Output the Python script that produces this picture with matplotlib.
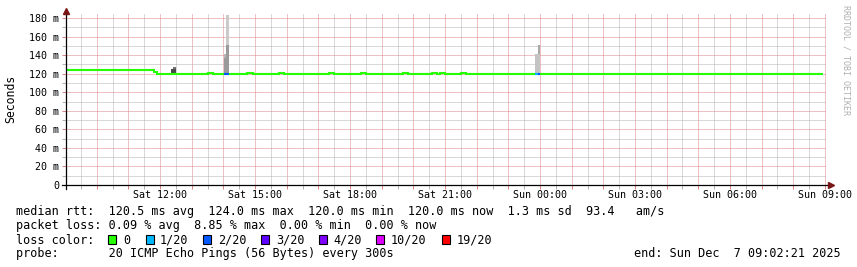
import matplotlib
matplotlib.use("Agg")
import matplotlib.pyplot as plt
from matplotlib.patches import Rectangle
from matplotlib.ticker import FixedLocator, FuncFormatter, MultipleLocator

W, H = 857, 267
MONO = "DejaVu Sans Mono"

# --- data (x = hours since Sat 00:00) ---
rtt_hours = [9.04, 11.81, 11.91, 13.52, 13.67, 14.75, 14.94, 15.76, 15.92, 17.34, 17.49,
             18.35, 18.51, 19.67, 19.83, 20.59, 20.75, 20.84, 21.00, 21.50, 21.66, 32.90]
rtt_ms = [124.0, 122.0, 120.0, 121.0, 120.0, 121.0, 120.0, 121.0, 120.0, 121.0, 120.0,
          121.0, 120.0, 121.0, 120.0, 121.0, 120.0, 121.0, 120.0, 121.0, 120.0, 120.0]

loss_start = [14.02, 23.84, 23.94]
loss_end = [14.18, 23.94, 24.00]
loss_ms = [120.0, 120.0, 120.0]
loss_level = [2, 1, 2]

smoke_start = [12.35, 12.41, 12.41, 14.02, 14.02, 14.08, 14.08, 23.84, 23.94, 23.94]
smoke_end = [12.41, 12.51, 12.51, 14.08, 14.08, 14.18, 14.18, 23.94, 24.00, 24.00]
smoke_lo = [121.0, 121.0, 124.5, 121.0, 137.0, 121.0, 151.0, 121.0, 121.0, 141.0]
smoke_hi = [124.5, 124.5, 127.0, 137.0, 141.0, 151.0, 183.0, 141.0, 141.0, 151.0]
smoke_grey = ["#4a4a4a", "#4a4a4a", "#707070", "#9a9a9a", "#b6b6b6",
              "#9a9a9a", "#cacaca", "#c4c4c4", "#c4c4c4", "#a8a8a8"]

label_hours = [12, 15, 18, 21, 24, 27, 30, 33]
x_labels = ["Sat 12:00", "Sat 15:00", "Sat 18:00", "Sat 21:00",
            "Sun 00:00", "Sun 03:00", "Sun 06:00", "Sun 09:00"]
y_values = [0, 20, 40, 60, 80, 100, 120, 140, 160, 180]
y_labels = ["0", "20 m", "40 m", "60 m", "80 m", "100 m", "120 m", "140 m", "160 m", "180 m"]

loss_names = ["0", "1/20", "2/20", "3/20", "4/20", "10/20", "19/20"]
loss_colors = ["#26ff00", "#00b8ff", "#0059ff", "#5e00ff", "#7e00ff", "#dd00ff", "#ff0000"]

rtt_stat_names = ["avg", "max", "min", "now"]
rtt_stats = [120.5, 124.0, 120.0, 120.0]
rtt_sd = 1.3
rtt_am = 93.4
loss_stats = [0.09, 8.85, 0.00, 0.00]
probe_text = "20 ICMP Echo Pings (56 Bytes) every 300s"
end_text = "end: Sun Dec  7 09:02:21 2025"

# --- layout (pixels) ---
X0, X1 = 66.4, 826.2
Y0, Y1 = 185.0, 13.0
GRID_RED = "#dc8484"
GRID_GREY = "#b2b2b2"
ARROW = "#7a1515"


def fx(px):
    return px / W


def fy(py):
    return 1 - py / H


fig = plt.figure(figsize=(W / 100, H / 100), dpi=100, facecolor="white")
ax = fig.add_axes([fx(X0), fy(Y0), (X1 - X0) / W, (Y0 - Y1) / H])
ax.set_xlim(9.0392, 33.0392)
ax.set_ylim(0, 185.4)
for s in ax.spines.values():
    s.set_visible(False)

# smoke
ax.bar(smoke_start, [h - l for l, h in zip(smoke_lo, smoke_hi)],
       width=[e - s for s, e in zip(smoke_start, smoke_end)], bottom=smoke_lo,
       align="edge", color=smoke_grey, linewidth=0, zorder=2)

# median rtt
ax.plot(rtt_hours, rtt_ms, drawstyle="steps-post", color=loss_colors[0],
        lw=1.5, zorder=3, solid_joinstyle="miter")
ax.hlines(loss_ms, loss_start, loss_end, colors=[loss_colors[i] for i in loss_level],
          lw=1.5, zorder=4)

# grid / ticks
ax.xaxis.set_major_locator(FixedLocator(list(range(10, 34))))
lab = dict(zip(label_hours, x_labels))
ax.xaxis.set_major_formatter(FuncFormatter(lambda v, p: lab.get(int(round(v)), "")))
ax.xaxis.set_minor_locator(MultipleLocator(0.5))
ax.yaxis.set_major_locator(FixedLocator(y_values))
ax.set_yticklabels(y_labels)
ax.yaxis.set_minor_locator(MultipleLocator(10))
ax.set_axisbelow(True)
ax.grid(which="major", color=GRID_RED, ls=(0, (1, 1)), lw=0.72)
ax.grid(which="minor", color=GRID_GREY, ls=(0, (1, 1)), lw=0.72)
ax.tick_params(which="major", length=3, width=0.72, color=GRID_RED, labelsize=7.2)
ax.tick_params(which="minor", length=3, width=0.72, color=GRID_GREY)
ax.tick_params(axis="x", pad=0.8)
ax.tick_params(axis="y", pad=2.2)
for t in ax.get_xticklabels() + ax.get_yticklabels():
    t.set_family(MONO)

# axes with arrows
ax.plot([-4.5 / (X1 - X0), 1 + 4 / (X1 - X0)], [0, 0], transform=ax.transAxes,
        color="black", lw=0.9, clip_on=False, zorder=5)
ax.plot([0, 0], [-4 / (Y0 - Y1), 1 + 1 / (Y0 - Y1)], transform=ax.transAxes,
        color="black", lw=0.9, clip_on=False, zorder=5)
ax.plot([1 + 5 / (X1 - X0)], [0], marker=">", ms=4, color=ARROW,
        transform=ax.transAxes, clip_on=False, zorder=6)
ax.plot([0], [1 + 2 / (Y0 - Y1)], marker="^", ms=4, color=ARROW,
        transform=ax.transAxes, clip_on=False, zorder=6)

fig.text(fx(11), fy(99), "Seconds", rotation=90, ha="center", va="center",
         family=MONO, fontsize=8.3)
fig.text(fx(846), fy(60), "RRDTOOL / TOBI OETIKER", rotation=270, ha="center",
         va="center", family=MONO, fontsize=6, color="#b0b0b0")

# legend rows
FS = 8.5
row1 = "median rtt:  " + "  ".join(f"{v:.1f} ms {n}" for v, n in zip(rtt_stats, rtt_stat_names)) \
    + f"  {rtt_sd:.1f} ms sd  {rtt_am:.1f}   am/s"
row2 = "packet loss: " + "  ".join(f"{v:.2f} % {n}" for v, n in zip(loss_stats, rtt_stat_names))
fig.text(fx(16), fy(215.5), row1, family=MONO, fontsize=FS, va="baseline")
fig.text(fx(16), fy(229.5), row2, family=MONO, fontsize=FS, va="baseline")
fig.text(fx(16), fy(243.5), "loss color:", family=MONO, fontsize=FS, va="baseline")
fig.text(fx(16), fy(257), "probe:       " + probe_text, family=MONO, fontsize=FS, va="baseline")
fig.text(fx(634), fy(257), end_text, family=MONO, fontsize=FS, va="baseline")

box_x = [108, 146, 203, 261, 319, 376, 442]
text_x = [123, 160, 218, 276, 333, 391, 457]
for bx, tx, name, col in zip(box_x, text_x, loss_names, loss_colors):
    fig.patches.append(Rectangle((fx(bx), fy(244)), 8 / W, 9 / H, transform=fig.transFigure,
                                 facecolor=col, edgecolor="black", lw=0.8))
    fig.text(fx(tx), fy(243.5), name, family=MONO, fontsize=FS, va="baseline")

fig.savefig("out.png", dpi=100, facecolor="white")
